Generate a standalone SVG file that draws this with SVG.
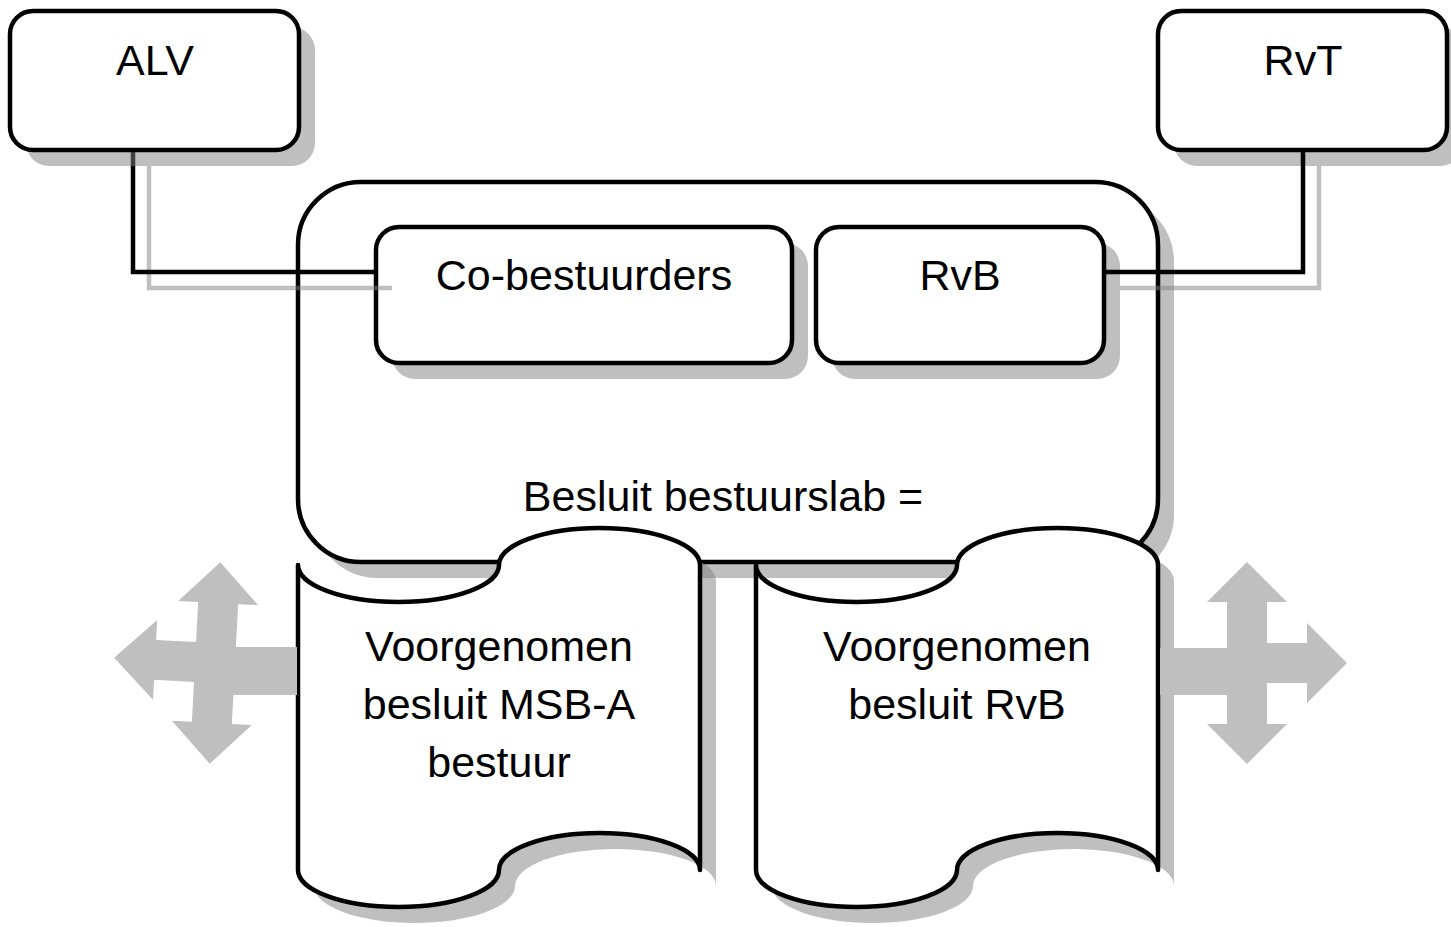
<svg xmlns="http://www.w3.org/2000/svg" width="1451" height="927" viewBox="0 0 1451 927">
<style>
.shape{fill:#ffffff;stroke:#000000;stroke-width:4.5;stroke-linejoin:round}
.shadow{fill:#808080;fill-opacity:0.5;stroke:none}
.lbl{font-family:"Liberation Sans",Arial,sans-serif;font-size:43px;fill:#000000;text-anchor:middle}
.conn{fill:none;stroke:#000000;stroke-width:4.5}
.connsh{fill:none;stroke:#808080;stroke-opacity:0.5;stroke-width:4.5}
.arrow{fill:#bfbfbf;stroke:none}
</style>
<rect width="1451" height="927" fill="#ffffff"/>

<g id="bestuurslab">
  <rect class="shadow" x="314" y="198" width="860" height="380" rx="63" ry="63"/>
  <rect class="shape" x="298" y="182" width="860" height="380" rx="63" ry="63"/>
  <text class="lbl" x="723" y="511">Besluit bestuurslab =</text>
</g>

<g id="co-bestuurders">
  <rect class="shadow" x="392" y="243" width="416" height="136" rx="23" ry="23"/>
  <rect class="shape" x="376" y="227" width="416" height="136" rx="23" ry="23"/>
  <text class="lbl" x="584" y="290">Co-bestuurders</text>
</g>

<g id="rvb">
  <rect class="shadow" x="832" y="243" width="288" height="136" rx="23" ry="23"/>
  <rect class="shape" x="816" y="227" width="288" height="136" rx="23" ry="23"/>
  <text class="lbl" x="960" y="290">RvB</text>
</g>

<g id="rvt">
  <rect class="shadow" x="1174" y="27" width="289" height="139" rx="23" ry="23"/>
  <rect class="shape" x="1158" y="11" width="289" height="139" rx="23" ry="23"/>
  <text class="lbl" x="1303" y="75">RvT</text>
</g>

<g id="connectors">
  <polyline class="connsh" points="149,166 149,288 392,288"/>
  <polyline class="conn" points="133,150 133,272 376,272"/>
  <polyline class="connsh" points="1319,166 1319,288 1120,288"/>
  <polyline class="conn" points="1303,150 1303,272 1104,272"/>
</g>

<g id="alv">
  <rect class="shadow" x="26" y="27" width="289" height="139" rx="23" ry="23"/>
  <rect class="shape" x="10" y="11" width="289" height="139" rx="23" ry="23"/>
  <text class="lbl" x="155" y="75">ALV</text>
</g>

<g id="besluit-msb-a">
  <path class="shadow" transform="translate(16,16)" d="M298,565 A100.5,37 0 0 0 499,565 A100.5,37 0 0 1 700,565 L700,870 A100.5,37 0 0 0 499,870 A100.5,37 0 0 1 298,870 Z"/>
  <path class="shape" d="M298,565 A100.5,37 0 0 0 499,565 A100.5,37 0 0 1 700,565 L700,870 A100.5,37 0 0 0 499,870 A100.5,37 0 0 1 298,870 Z"/>
  <text class="lbl" x="499" y="661">Voorgenomen</text>
  <text class="lbl" x="499" y="719">besluit MSB-A</text>
  <text class="lbl" x="499" y="777">bestuur</text>
</g>

<g id="besluit-rvb">
  <path class="shadow" transform="translate(16,16)" d="M756,565 A100.5,37 0 0 0 957,565 A100.5,37 0 0 1 1158,565 L1158,870 A100.5,37 0 0 0 957,870 A100.5,37 0 0 1 756,870 Z"/>
  <path class="shape" d="M756,565 A100.5,37 0 0 0 957,565 A100.5,37 0 0 1 1158,565 L1158,870 A100.5,37 0 0 0 957,870 A100.5,37 0 0 1 756,870 Z"/>
  <text class="lbl" x="957" y="661">Voorgenomen</text>
  <text class="lbl" x="957" y="719">besluit RvB</text>
</g>

<g id="arrow-left">
  <rect class="arrow" x="228" y="647" width="69" height="48"/>
  <polygon class="arrow" transform="translate(215,663) rotate(3)" points="0,-101 40,-60 20,-60 20,60 40,60 0,101 -40,60 -20,60 -20,20 -60,20 -60,40 -101,0 -60,-40 -60,-20 -20,-20 -20,-60 -40,-60"/>
</g>

<g id="arrow-right">
  <rect class="arrow" x="1160" y="648" width="72" height="47"/>
  <polygon class="arrow" transform="translate(1247,663)" points="0,-101 40,-61 20,-61 20,-20 60,-20 60,-40 100,0 60,40 60,20 20,20 20,61 40,61 0,101 -40,61 -20,61 -20,-61 -40,-61"/>
</g>
</svg>
